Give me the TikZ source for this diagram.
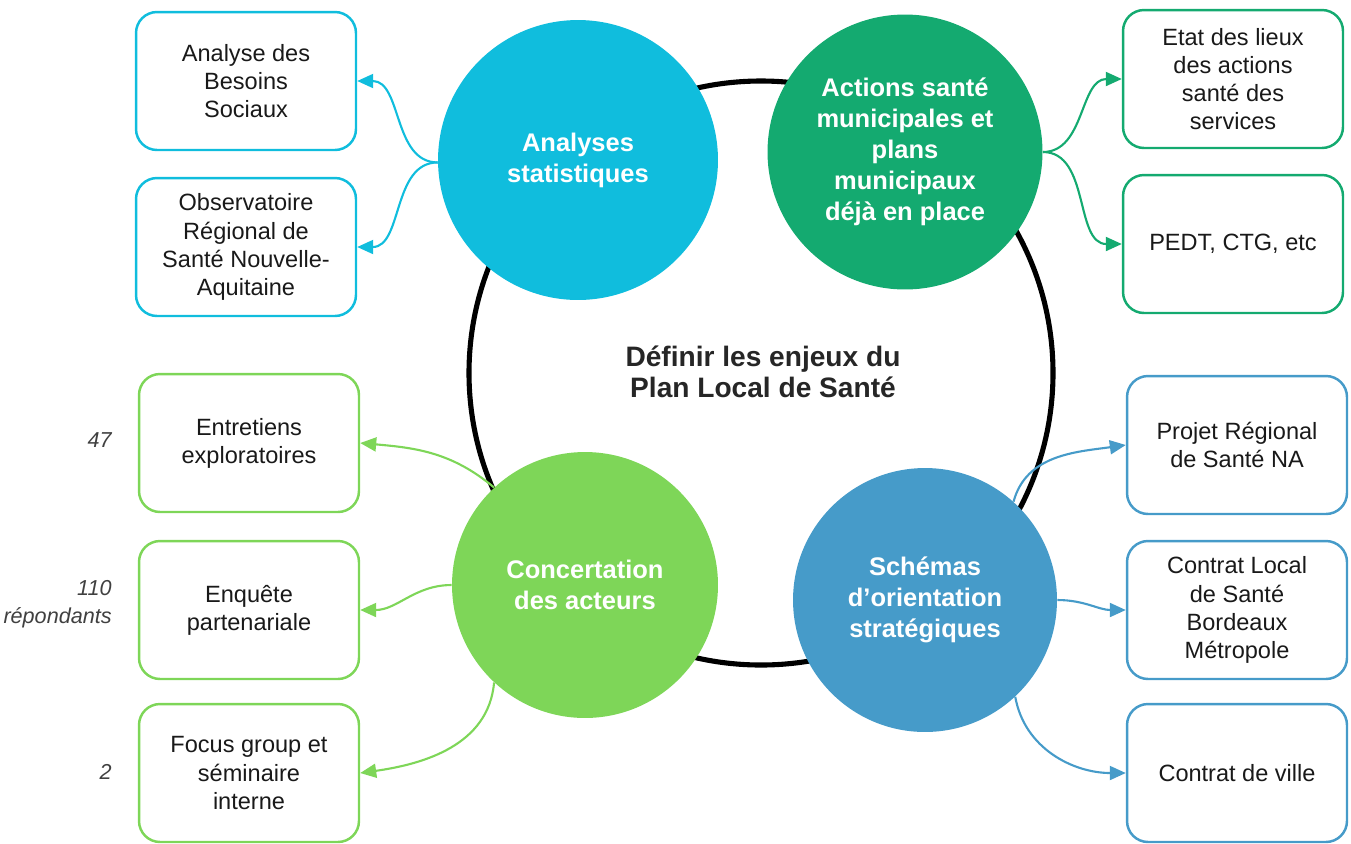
\documentclass[tikz,border=0pt]{standalone}
\usepackage{fontspec}
\setmainfont{Liberation Sans}
\usetikzlibrary{arrows.meta}
\definecolor{stat}{RGB}{16,189,221}
\definecolor{muni}{RGB}{20,170,112}
\definecolor{conc}{RGB}{126,214,88}
\definecolor{schema}{RGB}{70,155,201}
\definecolor{gristexte}{RGB}{38,38,38}

\begin{document}
\begin{tikzpicture}[x=0.02cm,y=0.02cm,
    disque/.style={circle,inner sep=0pt,text=white,align=center,font=\fontsize{14.5}{17.6}\selectfont\bfseries},
    boite/.style={draw,line width=1.4pt,rounded corners=0.42cm,minimum width=4.4cm,minimum height=2.76cm,
      align=center,text=black!90,font=\fontsize{13.4}{16}\selectfont},
    lien/.style={line width=1.2pt,-{Triangle[length=0.32cm,width=0.28cm]}},
    chiffre/.style={anchor=east,align=right,inner sep=0pt,text=black!75,font=\fontsize{12.3}{16}\selectfont\itshape}]
			\useasboundingbox (0,0) rectangle (1351,-843);
			% anneau central
			\draw [line width=2.9pt] (761,-373) circle [radius=292];
			\node (centre) at (763,-372) [align=center,text=gristexte,font=\fontsize{16}{17.5}\selectfont\bfseries] {D\'efinir les enjeux du\\Plan Local de Sant\'e};
			% les quatre disques
			\node (ana) at (578,-160) [disque,fill=stat,minimum size=5.6cm] {Analyses\\statistiques};
			\node (act) at (905,-152) [disque,fill=muni,minimum size=5.5cm] {Actions sant\'e\\municipales et\\plans\\municipaux\\d\'ej\`a en place};
			\node (con) at (585,-585) [disque,fill=conc,minimum size=5.32cm] {Concertation\\des acteurs};
			\node (sch) at (925,-600) [disque,fill=schema,minimum size=5.28cm] {Sch\'emas\\d’orientation\\strat\'egiques};
			% boites
			\node (besoins) at (246,-81) [boite,draw=stat] {Analyse des\\Besoins\\Sociaux};
			\node (obs) at (246,-247) [boite,draw=stat] {Observatoire\\R\'egional de\\Sant\'e Nouvelle-\\Aquitaine};
			\node (etat) at (1233,-79) [boite,draw=muni] {Etat des lieux\\des actions\\sant\'e des\\services};
			\node (pedt) at (1233,-244) [boite,draw=muni] {PEDT, CTG, etc};
			\node (entr) at (249,-443) [boite,draw=conc] {Entretiens\\exploratoires};
			\node (enq) at (249,-610) [boite,draw=conc] {Enqu\^ete\\partenariale};
			\node (focus) at (249,-773) [boite,draw=conc] {Focus group et\\s\'eminaire\\interne};
			\node (prs) at (1237,-445) [boite,draw=schema] {Projet R\'egional\\de Sant\'e NA};
			\node (cls) at (1237,-610) [boite,draw=schema] {Contrat Local\\de Sant\'e\\Bordeaux\\M\'etropole};
			\node (ville) at (1237,-773) [boite,draw=schema] {Contrat de ville};
			% chiffres
			\node (n47) at (112,-440) [chiffre] {47};
			\node (n110) at (112,-604) [chiffre] {110\\r\'epondants};
			\node (n2) at (112,-772) [chiffre] {2};
			% fleches
			\draw [lien,stat] (ana.181) to[out=180,in=0] (besoins.east);
			\draw [lien,stat] (ana.181) to[out=180,in=0] (obs.east);
			\draw [lien,muni] (act.0) to[out=0,in=180] (etat.west);
			\draw [lien,muni] (act.0) to[out=0,in=180] (pedt.west);
			\draw [lien,conc] (con.133) to[out=140,in=-5] (entr.east);
			\draw [lien,conc] (con.180) to[out=180,in=0] (enq.east);
			\draw [lien,conc] (con.227) to[out=-95,in=8] (focus.east);
			\draw [lien,schema] (sch.48) to[out=75,in=188] (prs.west);
			\draw [lien,schema] (sch.0) to[out=0,in=180] (cls.west);
			\draw [lien,schema] (sch.-47) to[out=-80,in=180] (ville.west);
\end{tikzpicture}
\end{document}
